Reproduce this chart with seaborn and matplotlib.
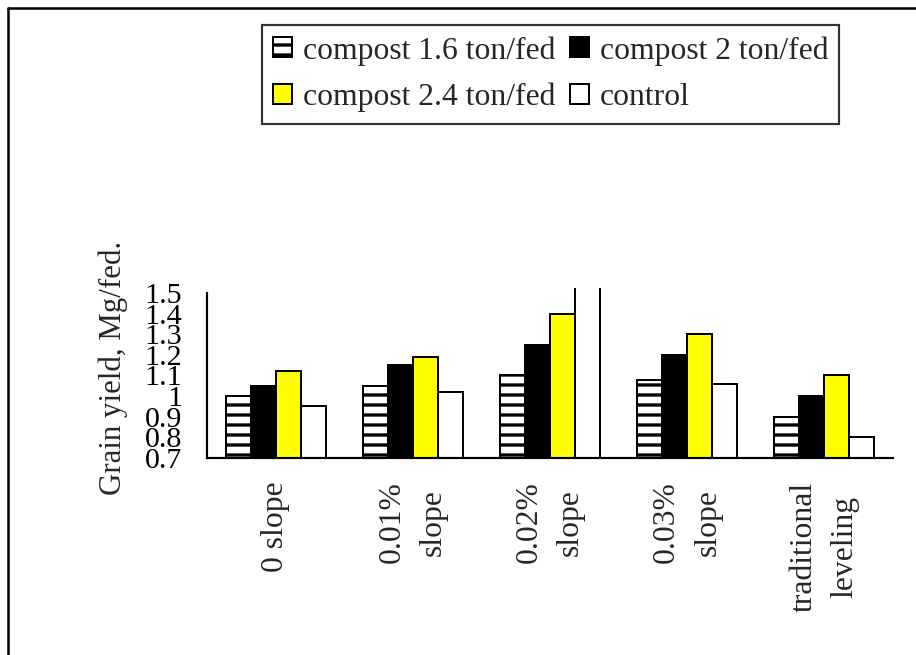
import matplotlib
matplotlib.use("Agg")
import matplotlib.pyplot as plt
from matplotlib.lines import Line2D
import numpy as np
import pandas as pd
import seaborn as sns

# Grain yield (Mg/fed.) by land-levelling slope and compost rate
slopes = ["0 slope", "0.01%\nslope", "0.02%\nslope", "0.03%\nslope", "traditional\nleveling"]
treatments = ["compost 1.6 ton/fed", "compost 2 ton/fed", "compost 2.4 ton/fed", "control"]
compost_16 = [1.00, 1.05, 1.10, 1.08, 0.90]
compost_20 = [1.05, 1.15, 1.25, 1.20, 1.00]
compost_24 = [1.12, 1.19, 1.40, 1.30, 1.10]
control = [0.95, 1.02, 1.55, 1.06, 0.80]
ytick_values = [0.7, 0.8, 0.9, 1.0, 1.1, 1.2, 1.3, 1.4, 1.5]
ytick_labels = ["0.7", "0.8", "0.9", "1", "1.1", "1.2", "1.3", "1.4", "1.5"]

rows = []
for name, vals in zip(treatments, [compost_16, compost_20, compost_24, control]):
    for s, v in zip(slopes, vals):
        rows.append({"slope": s, "treatment": name, "yield": v})
df = pd.DataFrame(rows)

sns.set_style("white")
plt.rcParams["font.family"] = ["Liberation Serif", "DejaVu Serif"]
plt.rcParams["hatch.linewidth"] = 2.0
plt.rcParams["hatch.color"] = "black"

W, H, DPI = 916, 655, 120
fig = plt.figure(figsize=(W / DPI, H / DPI), dpi=DPI)
ax = fig.add_axes([207 / W, 1 - 458 / H, 686 / W, 170 / H])

palette = ["white", "black", "#FFFF00", "white"]
sns.barplot(data=df, x="slope", y="yield", hue="treatment", order=slopes,
            hue_order=treatments, palette=palette, width=0.73,
            edgecolor="black", linewidth=1.2, saturation=1, ax=ax, legend=False)

# horizontal stripes for the 1.6 ton/fed series
for bar in ax.containers[0]:
    bar.set_hatch("--")

ax.set_xlim(-0.5, len(slopes) - 0.5)
ax.set_ylim(0.7, 1.524)
ax.spines["left"].set_bounds(0.7, 1.5)
for side in ["top", "right"]:
    ax.spines[side].set_visible(False)
for side in ["left", "bottom"]:
    ax.spines[side].set_linewidth(1.3)
    ax.spines[side].set_color("black")

ax.set_yticks(ytick_values)
ax.set_yticklabels(ytick_labels, fontsize=18)
ax.tick_params(axis="y", direction="out", length=6, width=1.3, pad=9, colors="black")

ax.set_xticks(range(len(slopes)))
ax.set_xticklabels(slopes, rotation=90, fontsize=19, ha="center", va="top",
                   multialignment="center", linespacing=1.55)
ax.tick_params(axis="x", which="major", length=0, pad=14)
ax.set_xticks(np.arange(-0.5, len(slopes), 1.0), minor=True)
ax.tick_params(axis="x", which="minor", direction="out", length=6, width=1.3, colors="black")

ax.set_xlabel("")
ax.set_ylabel("Grain yield, Mg/fed.", fontsize=18.5)
ax.yaxis.set_label_coords((128 - 207) / 686, 0.53)

# legend rows read: 1.6 | 2  /  2.4 | control  (matplotlib fills columns first)
bars = [ax.containers[i][0] for i in range(len(treatments))]
order = [0, 2, 1, 3]
leg = ax.legend([bars[i] for i in order], [treatments[i] for i in order], ncol=2,
                loc="upper left", bbox_to_anchor=(262 / W, 1 - 25 / H),
                bbox_transform=fig.transFigure, borderaxespad=0, fontsize=19,
                frameon=True, fancybox=False, handlelength=0.6, handleheight=0.6,
                handletextpad=0.35, columnspacing=0.45, labelspacing=0.55,
                borderpad=0.35)
leg.get_frame().set_edgecolor("black")
leg.get_frame().set_linewidth(1.3)

# outer chart frame along the top and left edges
fig.add_artist(Line2D([8 / W, 8 / W], [0, 1 - 8 / H], color="black", lw=1.5,
                      transform=fig.transFigure))
fig.add_artist(Line2D([8 / W, 1], [1 - 8 / H, 1 - 8 / H], color="black", lw=1.5,
                      transform=fig.transFigure))

fig.savefig("out.png", dpi=DPI)
